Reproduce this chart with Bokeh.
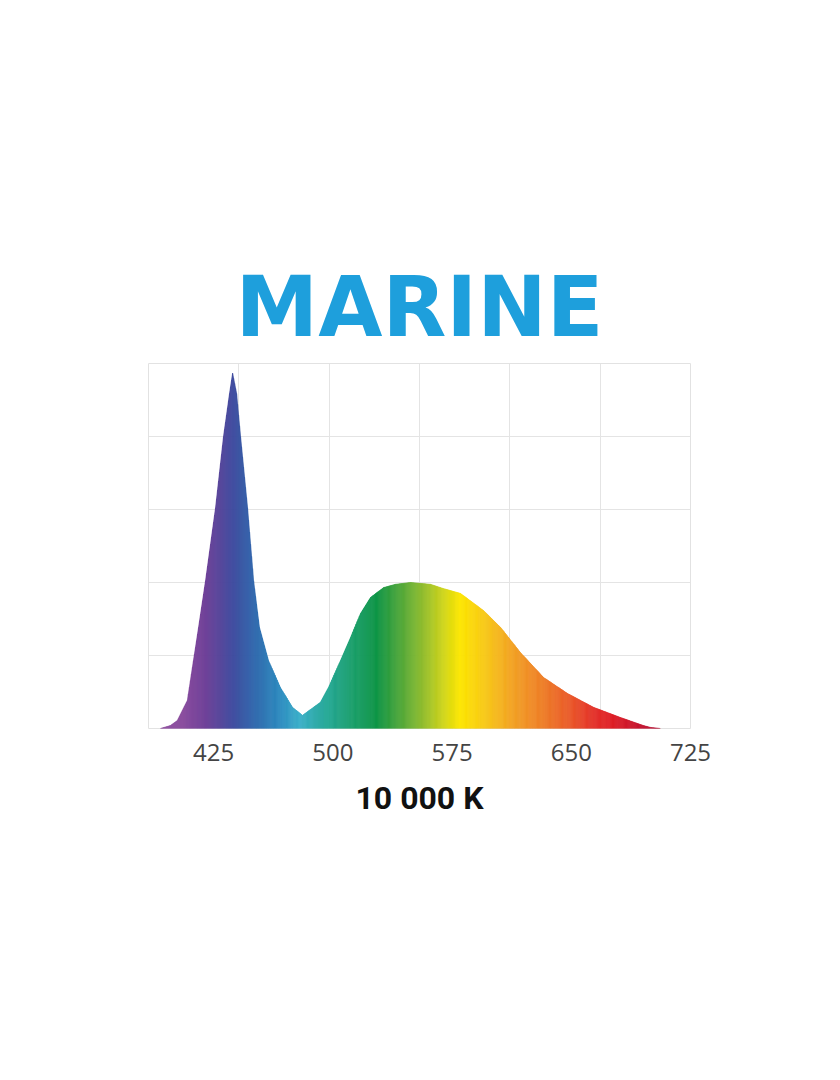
import numpy as np
from bokeh.plotting import figure
from bokeh.models import Range1d, FixedTicker, Title
from bokeh.embed import file_html
from bokeh.resources import INLINE

# ---- data ----
wavelength = [391.5, 397.8, 402.2, 408.5, 412.3, 415.5, 419.9, 426.2, 431.2,
              435.0, 436.9, 439.4, 441.9, 446.3, 450.1, 453.8, 459.5, 467.0,
              474.6, 480.9, 487.8, 492.2, 497.2, 504.8, 511.1, 517.4, 523.7, 531.9,
              539.4, 548.8, 561.4, 569.0, 580.3, 594.8, 605.5, 618.0, 632.5, 647.6,
              664.0, 681.0, 695.4, 699.8, 706.0]
intensity = [0.0, 0.8, 2.2, 7.7, 18.6, 27.7, 40.5, 60.5, 80.0,
             91.8, 97.3, 91.8, 80.0, 60.5, 40.5, 27.7, 18.6, 11.2,
             5.8, 3.6, 5.8, 7.2, 11.2, 18.6, 24.9, 31.5, 35.9, 38.6,
             39.5, 40.0, 39.5, 38.4, 37.0, 32.3, 27.7, 20.8, 14.0, 9.6,
             5.8, 3.0, 0.8, 0.3, 0.0]
tick_values = [425, 500, 575, 650, 725]
title_text = "MARINE"
subtitle_text = "10 000 K"

# ---- style: colour ramp along the wavelength axis ----
color_stops = [(395, "#8E50A0"), (405, "#8A4B9E"), (420, "#6C3D96"), (438, "#3C4B9E"),
               (452, "#2E6AAE"), (468, "#2C8DC0"), (479, "#3BAFC9"), (495, "#26A99A"),
               (513, "#1A9E6A"), (528, "#0E9545"), (542, "#4CA63A"), (556, "#8DBB2F"),
               (570, "#D0D51A"), (580, "#FCE600"), (598, "#F7C41A"), (614, "#F2A024"),
               (631, "#EE8027"), (649, "#EA5A29"), (665, "#E3302A"), (676, "#DE1F27"),
               (691, "#C8162E"), (705, "#B5173A")]

def hex2rgb(h):
    return np.array([int(h[i:i + 2], 16) for i in (1, 3, 5)], dtype=float)

stop_x = np.array([s[0] for s in color_stops], dtype=float)
stop_rgb = np.array([hex2rgb(s[1]) for s in color_stops])

def color_at(x):
    r = np.interp(x, stop_x, stop_rgb[:, 0])
    g = np.interp(x, stop_x, stop_rgb[:, 1])
    b = np.interp(x, stop_x, stop_rgb[:, 2])
    return "#%02x%02x%02x" % (int(round(r)), int(round(g)), int(round(b)))

X_MIN, X_MAX = 384, 725
Y_MIN, Y_MAX = 0, 100

p = figure(width=824, height=1060, output_backend="svg", toolbar_location=None,
           x_range=Range1d(X_MIN, X_MAX), y_range=Range1d(Y_MIN, Y_MAX),
           min_border_left=148, min_border_right=134, min_border_top=363,
           min_border_bottom=332, background_fill_color="white",
           border_fill_color="white")

# gradient-filled area: slice each segment of the read polyline into thin strips
xs_list, ys_list, cols = [], [], []
for i in range(len(wavelength) - 1):
    x0, x1 = wavelength[i], wavelength[i + 1]
    y0, y1 = intensity[i], intensity[i + 1]
    n = max(1, int(np.ceil((x1 - x0) / 0.7)))
    for j in range(n):
        a, b = j / n, (j + 1) / n
        xa, xb = x0 + (x1 - x0) * a, x0 + (x1 - x0) * b
        ya, yb = y0 + (y1 - y0) * a, y0 + (y1 - y0) * b
        xs_list.append([xa, xb, xb, xa])
        ys_list.append([0, 0, yb, ya])
        cols.append(color_at((xa + xb) / 2))

p.patches(xs=xs_list, ys=ys_list, fill_color=cols, line_color=cols, line_width=0.7)

# grid
p.xgrid.ticker = FixedTicker(ticks=list(np.linspace(X_MIN, X_MAX, 7)[1:-1]))
p.ygrid.ticker = FixedTicker(ticks=list(np.linspace(Y_MIN, Y_MAX, 6)[1:-1]))
p.grid.grid_line_color = "#E4E4E4"
p.grid.grid_line_width = 1
p.outline_line_color = "#E2E2E2"
p.outline_line_width = 1

# axes
p.yaxis.visible = False
p.xaxis.ticker = FixedTicker(ticks=tick_values)
p.xaxis.axis_line_color = None
p.xaxis.major_tick_line_color = None
p.xaxis.minor_tick_line_color = None
p.xaxis.major_tick_out = 0
p.xaxis.major_label_standoff = 15
p.xaxis.major_label_text_font = "Open Sans"
p.xaxis.major_label_text_font_size = "24px"
p.xaxis.major_label_text_color = "#444444"

# title
p.title.text = title_text
p.title.align = "center"
p.title.text_font = "DejaVu Sans"
p.title.text_font_style = "bold"
p.title.text_font_size = "83px"
p.title.text_color = "#1E9FDC"
p.title.standoff = 16

sub = Title(text=subtitle_text, align="center",
            text_font="Roboto",
            text_font_style="bold", text_font_size="32px", text_color="#111111",
            standoff=27)
p.add_layout(sub, "below")

open("out.html", "w").write(file_html(p, INLINE))
